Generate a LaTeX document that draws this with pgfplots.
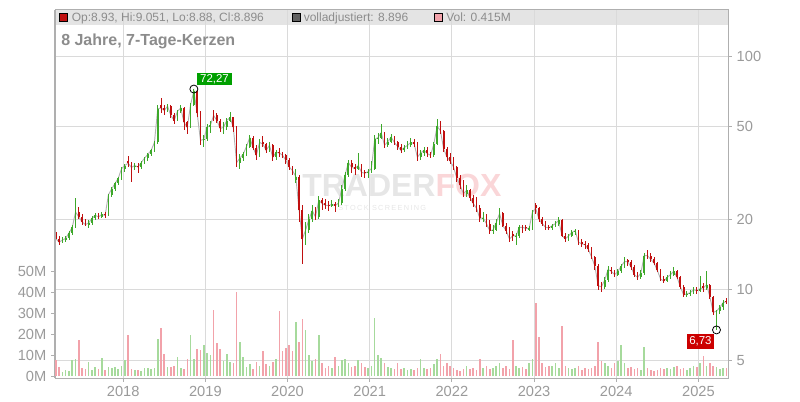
\documentclass[border=0pt]{standalone}
\usepackage{fontspec}
\setmainfont{Liberation Sans}
\usepackage{pgfplots}
\pgfplotsset{compat=1.18}
\usepackage{pgfplotstable}
\definecolor{cgreen}{HTML}{3DA82A}
\definecolor{cred}{HTML}{C01010}
\definecolor{vgreen}{HTML}{A6DA9C}
\definecolor{vred}{HTML}{F2A2AA}
\definecolor{gridc}{HTML}{DADADA}
\definecolor{axc}{HTML}{AFAFAF}
\definecolor{txt}{HTML}{9A9A9A}
\definecolor{hdr}{HTML}{E4E4E4}
\definecolor{httxt}{HTML}{8C8C8C}
\definecolor{wmg}{HTML}{E6E6E6}
\definecolor{wmr}{HTML}{FAD6D8}
\definecolor{boxg}{HTML}{00A000}
\definecolor{boxr}{HTML}{CC0000}

\pgfplotstableread{
x o h l c v
2017.18 17.6 18.0 15.9 16.5 7.6
2017.22 16.5 16.9 15.6 16.0 4.5
2017.26 16.0 16.8 15.8 16.3 2.0
2017.30 16.3 17.0 16.0 16.6 3.0
2017.34 16.6 17.9 16.4 17.5 2.5
2017.38 17.5 18.9 17.2 18.5 7.5
2017.42 18.5 24.6 18.3 21.5 8.0
2017.46 21.5 22.5 20.0 20.5 17.0
2017.50 20.5 21.0 19.0 19.5 4.0
2017.54 19.5 20.0 18.7 19.0 3.5
2017.58 19.0 19.8 18.3 19.3 6.5
2017.62 19.3 20.6 19.0 20.2 3.0
2017.66 20.2 21.2 19.8 20.8 4.5
2017.70 20.8 21.3 20.0 20.5 3.5
2017.74 20.5 21.6 20.2 21.0 8.5
2017.78 21.0 21.5 20.3 20.8 3.0
2017.82 20.8 25.8 20.6 25.5 4.5
2017.86 25.5 27.5 25.0 27.0 4.0
2017.90 27.0 29.0 26.5 28.5 4.5
2017.94 28.5 30.5 28.0 30.0 3.5
2017.98 30.0 33.5 29.5 33.0 5.0
2018.02 33.0 34.5 32.0 34.0 7.5
2018.06 35.5 37.5 33.5 34.8 19.5
2018.10 34.8 35.2 29.0 33.4 3.5
2018.14 33.4 34.8 32.5 34.0 3.0
2018.18 34.0 35.0 31.5 33.5 3.0
2018.22 33.5 35.5 33.0 35.0 2.5
2018.26 35.0 37.0 34.5 36.6 4.0
2018.30 36.6 38.5 35.5 38.0 4.0
2018.34 38.0 40.0 37.5 39.5 3.5
2018.38 39.5 43.5 39.0 42.7 4.0
2018.42 42.7 62.0 42.0 59.5 17.5
2018.46 61.5 66.0 57.0 60.0 23.0
2018.50 60.0 62.0 56.0 58.5 10.5
2018.54 58.5 62.5 57.5 61.0 4.5
2018.58 61.0 61.5 54.5 55.7 4.5
2018.62 55.7 57.0 51.0 53.0 5.0
2018.66 53.0 58.5 52.5 58.0 9.0
2018.70 58.0 62.0 57.0 60.0 4.0
2018.74 60.0 60.5 48.5 52.0 3.5
2018.78 52.0 53.0 46.5 49.5 8.0
2018.82 49.5 63.0 49.0 62.0 19.5
2018.86 62.0 72.27 61.0 71.0 8.0
2018.90 71.0 71.5 55.0 57.0 13.0
2018.94 57.0 58.0 41.5 43.6 12.5
2018.98 43.6 46.0 40.8 44.0 15.0
2019.02 44.0 51.0 43.5 49.5 11.0
2019.06 49.5 53.0 47.0 50.5 10.0
2019.10 57.5 59.0 53.0 55.7 31.5
2019.14 55.7 57.0 51.5 53.0 15.5
2019.18 53.0 54.0 47.5 49.0 13.0
2019.22 49.0 52.0 46.5 49.5 7.0
2019.26 49.5 54.5 48.5 53.0 10.5
2019.30 53.0 57.5 52.0 54.6 6.5
2019.34 54.6 55.0 47.5 49.5 6.0
2019.38 49.5 50.0 33.5 35.0 40.0
2019.42 35.0 38.0 33.0 36.6 16.0
2019.46 36.6 39.0 35.5 38.0 9.0
2019.50 38.0 42.0 37.5 41.0 4.5
2019.54 41.0 46.0 40.5 44.8 5.5
2019.58 44.8 45.5 39.5 40.6 3.5
2019.62 40.6 41.5 36.0 37.6 6.5
2019.66 37.6 44.0 37.0 42.7 5.0
2019.70 42.7 45.5 41.0 42.0 12.0
2019.74 42.0 42.5 38.5 39.5 5.5
2019.78 39.5 43.0 38.8 41.5 5.0
2019.82 41.5 42.0 35.5 36.9 6.5
2019.86 36.9 39.5 36.0 38.7 8.0
2019.90 38.7 40.5 37.0 38.5 31.0
2019.94 38.5 39.0 36.5 37.6 12.0
2019.98 37.6 38.0 34.5 35.8 13.5
2020.02 35.8 36.5 32.5 33.5 15.0
2020.06 33.5 34.0 31.0 32.4 12.0
2020.10 29.5 33.0 28.5 30.5 25.5
2020.14 30.5 31.0 19.5 22.0 16.0
2020.18 22.0 23.0 12.9 16.5 27.0
2020.22 16.5 19.5 15.5 18.0 22.0
2020.26 18.0 21.0 17.5 20.0 10.0
2020.30 20.0 23.0 19.5 21.8 7.0
2020.34 21.8 22.5 19.8 20.5 8.0
2020.38 20.5 25.2 20.0 24.1 19.5
2020.42 24.1 24.8 22.0 23.4 6.0
2020.46 23.4 24.5 22.2 23.0 4.0
2020.50 23.0 24.0 21.8 22.9 5.0
2020.54 22.9 24.2 22.5 23.2 4.0
2020.58 23.2 23.8 21.5 22.9 9.0
2020.62 22.9 24.5 22.5 23.5 5.0
2020.66 23.5 28.0 23.0 27.0 7.5
2020.70 27.0 32.0 26.5 31.0 8.0
2020.74 31.0 36.0 30.5 35.0 6.0
2020.78 35.0 36.0 31.5 33.4 4.5
2020.82 33.4 34.5 31.0 33.0 5.0
2020.86 33.0 38.5 32.5 34.0 7.5
2020.90 34.0 34.5 30.5 31.8 6.0
2020.94 31.8 32.5 30.0 31.5 4.5
2020.98 31.5 33.0 30.0 32.0 4.0
2021.02 32.0 35.5 31.5 33.0 5.0
2021.06 33.0 46.0 32.5 44.0 27.6
2021.10 44.0 47.0 42.0 44.8 10.0
2021.14 44.8 51.0 44.0 47.0 8.5
2021.18 47.0 47.5 40.5 41.5 6.0
2021.22 41.5 44.5 41.0 43.0 4.5
2021.26 43.0 46.5 42.5 45.0 4.0
2021.30 45.0 45.5 41.5 42.7 3.5
2021.34 42.7 43.5 39.5 41.0 6.0
2021.38 41.0 42.0 38.5 39.5 3.5
2021.42 39.5 41.5 39.0 40.6 4.0
2021.46 40.6 43.5 40.0 41.5 3.0
2021.50 41.5 44.5 41.0 42.7 3.5
2021.54 42.7 44.0 41.0 42.2 3.0
2021.58 42.2 43.0 35.5 36.9 4.0
2021.62 36.9 39.5 36.0 38.5 8.0
2021.66 38.5 41.0 37.5 39.5 4.0
2021.70 39.5 41.0 37.0 38.3 3.5
2021.74 38.3 39.0 36.5 37.6 4.0
2021.78 37.6 43.0 37.0 42.0 5.5
2021.82 42.0 54.0 41.5 50.0 8.0
2021.86 50.0 52.5 46.5 48.0 10.5
2021.90 48.0 48.5 39.0 40.0 5.0
2021.94 40.0 41.0 35.5 37.0 6.0
2021.98 37.0 38.5 34.5 35.5 5.0
2022.02 35.5 37.0 32.5 33.5 4.0
2022.06 33.5 34.0 29.0 30.0 3.0
2022.10 30.0 31.0 27.0 28.0 2.5
2022.14 28.0 29.5 25.0 25.8 3.5
2022.18 25.8 28.0 25.0 26.6 5.0
2022.22 26.6 27.0 24.0 24.8 3.5
2022.26 24.8 25.5 22.5 23.4 4.0
2022.30 23.4 25.0 21.5 22.3 3.0
2022.34 22.3 23.0 19.5 20.2 8.0
2022.38 20.2 21.5 19.5 20.3 4.0
2022.42 20.3 21.0 18.5 19.2 5.0
2022.46 19.2 19.8 17.3 17.9 3.5
2022.50 17.9 19.0 17.4 18.0 4.0
2022.54 18.0 20.0 17.8 19.4 5.0
2022.58 19.4 22.3 19.0 21.2 6.0
2022.62 21.2 21.5 18.5 18.8 4.0
2022.66 18.8 19.3 17.4 17.9 5.0
2022.70 17.9 18.5 16.0 16.5 3.5
2022.74 17.4 17.8 16.2 17.0 17.0
2022.78 16.8 17.5 15.6 17.0 5.0
2022.82 17.0 19.0 16.7 18.5 4.0
2022.86 18.7 19.0 17.5 18.5 4.5
2022.90 18.5 19.0 17.8 18.3 3.5
2022.94 18.1 18.8 17.8 18.3 6.0
2022.98 18.3 22.0 18.1 21.5 8.0
2023.02 23.0 23.5 21.0 22.3 35.0
2023.06 22.3 22.6 19.5 20.0 18.6
2023.10 20.0 20.5 18.8 19.2 6.0
2023.14 19.2 19.6 18.0 18.5 4.5
2023.18 18.5 19.0 18.0 18.4 5.0
2023.22 18.4 19.2 18.0 18.8 5.0
2023.26 18.8 19.6 18.5 19.2 6.0
2023.30 19.2 20.5 18.8 19.8 4.0
2023.34 19.8 20.0 16.8 17.0 24.0
2023.38 17.0 17.5 16.0 16.5 5.0
2023.42 16.5 17.3 16.2 17.0 4.0
2023.46 17.0 18.0 16.8 17.6 3.5
2023.50 17.6 18.2 17.2 17.9 4.0
2023.54 17.9 18.0 15.6 16.0 5.0
2023.58 16.0 16.5 15.3 15.7 3.0
2023.62 15.7 16.2 15.0 15.6 4.0
2023.66 15.6 15.9 14.5 14.9 3.5
2023.70 14.9 15.2 13.5 13.8 4.0
2023.74 13.8 14.0 12.2 12.6 5.0
2023.78 12.6 12.9 10.0 10.4 16.0
2023.82 10.4 10.8 9.8 10.3 7.0
2023.86 10.3 11.3 10.1 11.0 6.0
2023.90 11.0 12.6 10.8 12.2 5.0
2023.94 12.2 12.5 11.7 12.0 4.0
2023.98 12.0 12.2 11.3 11.6 6.0
2024.02 11.6 12.3 11.4 12.0 7.0
2024.06 12.0 12.9 11.8 12.6 15.0
2024.10 12.6 13.8 12.4 13.2 6.0
2024.14 13.4 13.5 12.6 13.2 4.0
2024.18 13.2 13.4 12.2 12.5 4.5
2024.22 12.5 12.8 11.3 11.6 3.5
2024.26 11.6 11.9 11.0 11.3 4.0
2024.30 11.3 12.1 11.1 11.8 3.0
2024.34 11.8 14.4 11.6 14.0 13.8
2024.38 14.3 14.8 13.6 14.0 4.0
2024.42 14.0 14.3 13.2 13.5 3.0
2024.46 13.5 13.8 12.8 13.0 2.5
2024.50 13.0 13.2 11.9 12.1 3.0
2024.54 12.1 12.3 10.9 11.1 4.0
2024.58 11.1 11.4 10.7 10.9 3.5
2024.62 10.9 11.6 10.8 11.3 4.0
2024.66 11.3 12.0 11.1 11.6 3.5
2024.70 11.6 12.5 11.4 12.0 4.5
2024.74 12.0 12.1 11.1 11.3 5.0
2024.78 11.3 11.5 10.1 10.3 3.5
2024.82 10.3 10.5 9.3 9.5 4.0
2024.86 9.5 9.9 9.3 9.6 3.0
2024.90 9.6 10.0 9.4 9.7 4.0
2024.94 9.7 10.3 9.6 10.0 5.0
2024.98 10.0 10.3 9.6 9.9 4.5
2025.02 9.9 11.5 9.8 10.1 6.0
2025.06 10.4 10.7 9.8 10.2 9.5
2025.10 10.2 12.0 10.0 10.5 5.0
2025.14 10.5 10.6 9.1 9.3 6.0
2025.18 9.3 9.4 7.8 8.0 5.0
2025.22 7.4 8.2 6.73 8.1 4.5
2025.26 8.1 8.6 7.9 8.4 3.5
2025.30 8.4 9.0 8.2 8.8 4.0
2025.34 8.93 9.2 8.7 8.9 4.0
}\data

\pgfplotsset{
  upf/.style={x filter/.expression={\thisrow{c}>=\thisrow{o} ? x : nan}},
  dnf/.style={x filter/.expression={\thisrow{c}<\thisrow{o} ? x : nan}},
}

\begin{document}
\begin{tikzpicture}
\begin{scope}[x=0.75pt,y=0.75pt]
\path[use as bounding box] (0,0) rectangle (800,400);
\fill[hdr] (55,375) rectangle (728.5,390);
% watermark
\node[anchor=base west, inner sep=0, font=\fontsize{24}{24}\selectfont\bfseries, text=wmg] at (302,203) {TRADER\textcolor{wmr}{FOX}};
\node[anchor=base west, inner sep=0, font=\fontsize{5.5}{6}\selectfont\addfontfeature{LetterSpace=18}, text=wmg] at (338,190) {STOCK SCREENING};
\end{scope}

\begin{axis}[
  at={(41.25pt,16.5pt)}, anchor=south west, scale only axis,
  width=504.75pt, height=276pt,
  xmin=2017.17, xmax=2025.36,
  ymode=log, ymin=4.19, ymax=157.5,
  xtick={2018,2019,2020,2021,2022,2023,2024,2025},
  xticklabels={2018,2019,2020,2021,2022,2023,2024,2025},
  ytick={5,10,20,50,100}, yticklabels={5,10,20,50,100},
  xtick pos=bottom, ytick pos=right, yticklabel pos=right,
  tick align=outside, major tick length=3pt,
  grid=major, major grid style={gridc, line width=0.75pt},
  axis line style={axc, line width=0.75pt},
  tick style={axc, line width=0.75pt},
  ticklabel style={font=\fontsize{11}{13}\selectfont, text=txt},
  /pgf/number format/assume math mode=true,
  clip=true,
]
\addplot[gray!60, line width=0.7pt, mark=none, forget plot] table[x=x, y=c]{\data};
% wicks
\addplot[draw=none, mark=none, upf, forget plot,
  error bars/.cd, y dir=both, y explicit, error mark=none,
  error bar style={draw=cgreen, line width=0.65pt}]
  table[x=x, y=c, y error plus expr=\thisrow{h}-\thisrow{c}, y error minus expr=\thisrow{c}-\thisrow{l}]{\data};
\addplot[draw=none, mark=none, dnf, forget plot,
  error bars/.cd, y dir=both, y explicit, error mark=none,
  error bar style={draw=cred, line width=0.65pt}]
  table[x=x, y=c, y error plus expr=\thisrow{h}-\thisrow{c}, y error minus expr=\thisrow{c}-\thisrow{l}]{\data};
% bodies
\addplot[draw=none, mark=none, upf, forget plot,
  error bars/.cd, y dir=minus, y explicit, error mark=none,
  error bar style={draw=cgreen, line width=1.3pt}]
  table[x=x, y=c, y error minus expr=\thisrow{c}-\thisrow{o}]{\data};
\addplot[draw=none, mark=none, dnf, forget plot,
  error bars/.cd, y dir=plus, y explicit, error mark=none,
  error bar style={draw=cred, line width=1.3pt}]
  table[x=x, y=c, y error plus expr=\thisrow{o}-\thisrow{c}]{\data};
% extremes
\addplot[only marks, mark=o, mark size=3pt, black, line width=0.6pt, forget plot]
  coordinates {(2018.86,72.27) (2025.22,6.73)};
\node[fill=boxg, text=white, anchor=south west, inner xsep=2pt, inner ysep=1pt, minimum height=9.5pt,
  font=\fontsize{8.6}{9}\selectfont, xshift=2.5pt, yshift=2.5pt] at (axis cs:2018.86,72.27) {72,27};
\node[fill=boxr, text=white, anchor=north east, inner xsep=2pt, inner ysep=1pt, minimum height=11pt,
  font=\fontsize{8.6}{9}\selectfont, xshift=-1.5pt, yshift=-3pt] at (axis cs:2025.22,6.73) {6,73};
\end{axis}

\begin{axis}[
  at={(41.25pt,16.5pt)}, anchor=south west, scale only axis,
  width=504.75pt, height=276pt,
  xmin=2017.17, xmax=2025.36,
  ymin=-0.95, ymax=174.3,
  axis x line=none, axis y line*=left,
  ytick={0,10,20,30,40,50}, yticklabels={0M,10M,20M,30M,40M,50M},
  tick align=outside, major tick length=3pt,
  axis line style={axc, line width=0.75pt},
  tick style={axc, line width=0.75pt},
  ticklabel style={font=\fontsize{11}{13}\selectfont, text=txt},
  clip=true,
]
\addplot[ycomb, vgreen, line width=1.2pt, upf, mark=none] table[x=x, y=v]{\data};
\addplot[ycomb, vred, line width=1.2pt, dnf, mark=none] table[x=x, y=v]{\data};
\end{axis}

\begin{scope}[x=0.75pt,y=0.75pt]
% header legend
\draw[black, fill=cred, line width=0.6pt] (59.5,378.5) rectangle (67.5,386.5);
\node[anchor=base west, inner sep=0, font=\fontsize{9}{10}\selectfont, text=httxt] at (71.5,378.3) {Op:8.93, Hi:9.051, Lo:8.88, Cl:8.896};
\draw[black, fill=gray!75!black, line width=0.6pt] (292,378.5) rectangle (300,386.5);
\node[anchor=base west, inner sep=0, font=\fontsize{9}{10}\selectfont, text=httxt] at (303.5,378.3) {volladjustiert: 8.896};
\draw[black, fill=vred, line width=0.6pt] (434.5,378.5) rectangle (442.5,386.5);
\node[anchor=base west, inner sep=0, font=\fontsize{9}{10}\selectfont, text=httxt] at (446,378.3) {Vol: 0.415M};
% title
\node[anchor=base west, inner sep=0, font=\fontsize{12}{14}\selectfont\bfseries, text=httxt] at (61,354.7) {8 Jahre, 7-Tage-Kerzen};
\end{scope}
\end{tikzpicture}
\end{document}
